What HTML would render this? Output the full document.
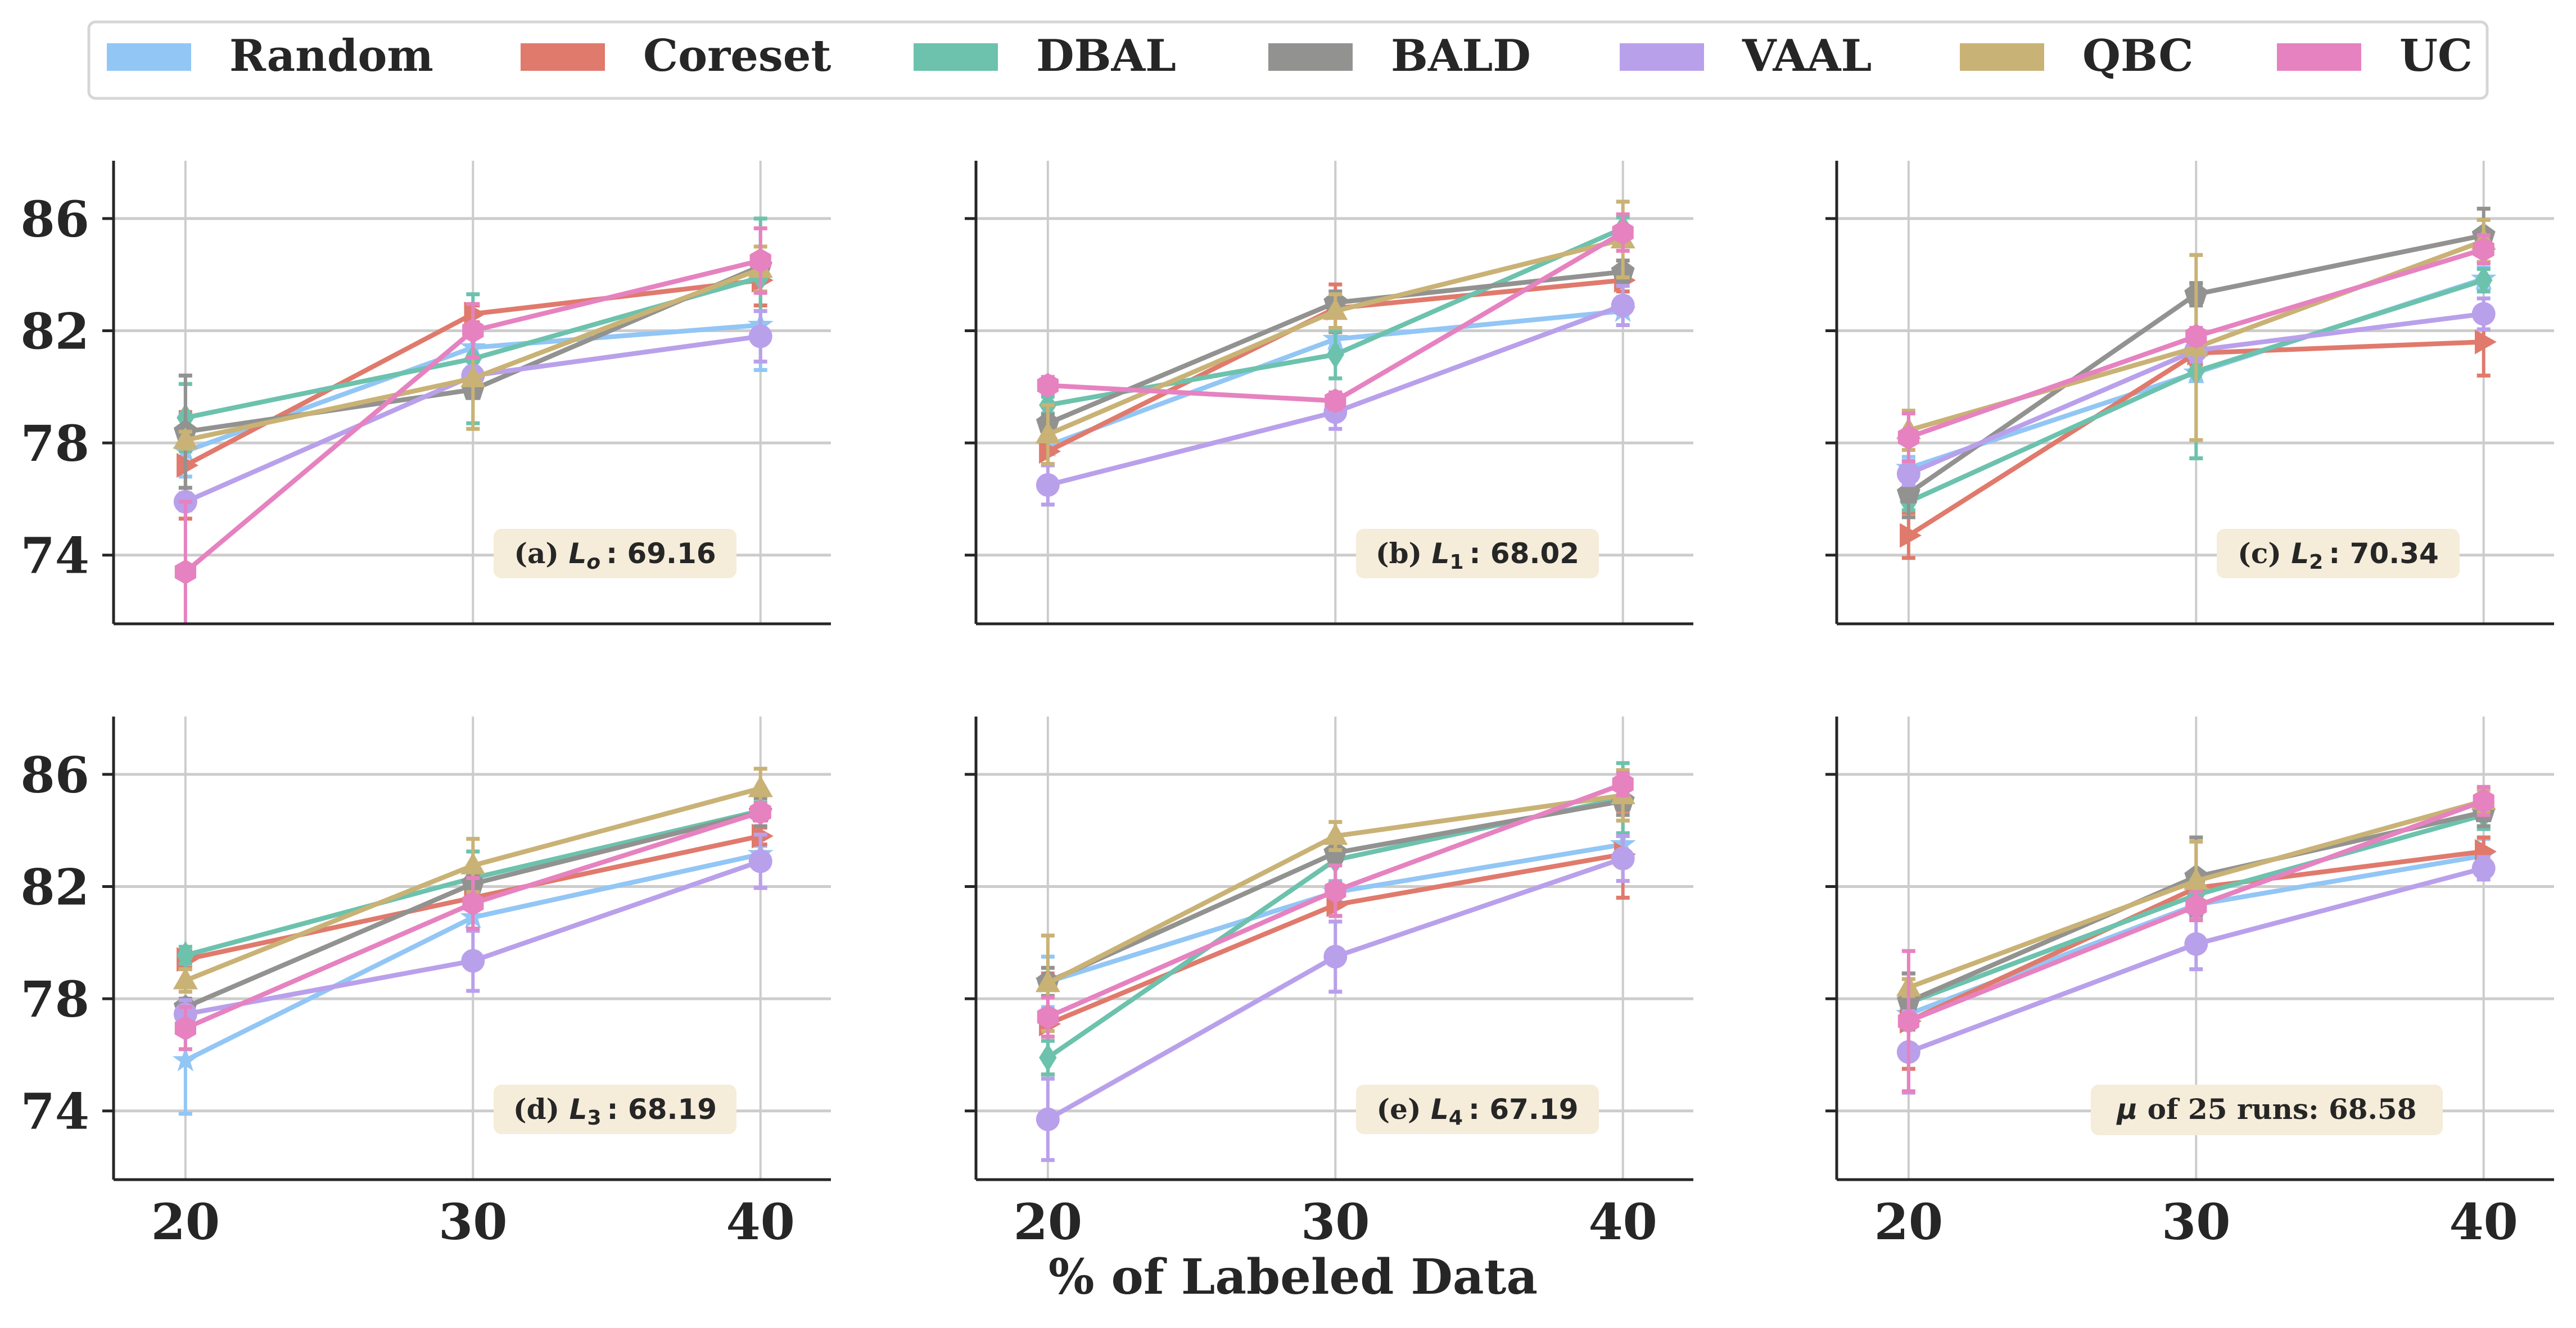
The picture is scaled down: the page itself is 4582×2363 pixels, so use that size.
<!DOCTYPE html>
<html><head><meta charset="utf-8">
<style>
html,body{margin:0;padding:0;background:#fff;}
svg{display:block;}
</style></head>
<body>
<svg id="chart" width="4582" height="2363" viewBox="0 0 4582 2363" xmlns="http://www.w3.org/2000/svg">
<rect x="0" y="0" width="4582" height="2363" fill="#fff"/>
<g id="legend"></g>
<g id="panels"></g>
<text x="2300" y="2302" text-anchor="middle" font-family="DejaVu Serif, Liberation Serif, serif" font-weight="bold" font-size="86" fill="#262626">% of Labeled Data</text>
</svg>
<script>
const seriesNames = ["Random","Coreset","DBAL","BALD","VAAL","QBC","UC"];
const seriesColors = ["#92c6f5","#e07a6c","#6cc2ad","#929290","#b9a0eb","#c9b275","#e682c0"];
const seriesMarkers = ["star","tri-right","diamond","pentagon","circle","tri-up","hexagon"];
const xValues = [20,30,40];
const xTicks = [20,30,40];
const yTicks = [74,78,82,86];
const panelLabels = ["(a) ","(b) ","(c) ","(d) ","(e) ",""];
const panelSubs = ["o","1","2","3","4",""];
const panelScores = ["69.16","68.02","70.34","68.19","67.19","68.58"];

const randomMeans = [[77.7,81.4,82.2],[77.9,81.7,82.7],[77.1,80.5,83.85],[75.8,80.9,83.15],[78.6,81.8,83.5],[77.45,81.35,83.1]];
const randomErrs  = [[0.9,0.5,1.6],[0.3,0.4,0.5],[0.4,0.3,0.4],[1.9,0.4,0.3],[0.9,0.4,0.3],[0.4,0.5,0.6]];
const coresetMeans = [[77.2,82.6,83.8],[77.7,82.8,83.8],[74.7,81.2,81.6],[79.4,81.6,83.8],[77.1,81.35,83.15],[77.2,81.95,83.25]];
const coresetErrs  = [[1.9,0.3,0.9],[0.5,0.85,0.4],[0.8,0.4,1.2],[0.3,0.3,0.3],[1.8,0.4,1.55],[1.7,0.5,0.5]];
const dbalMeans = [[78.9,81.0,83.9],[79.35,81.15,85.65],[75.9,80.55,83.8],[79.55,82.3,84.7],[75.9,82.95,85.15],[77.85,81.7,84.55]];
const dbalErrs  = [[1.2,2.3,2.1],[0.3,0.85,0.4],[0.3,3.1,0.4],[0.3,0.95,0.3],[0.6,0.8,1.25],[0.5,0.5,0.5]];
const baldMeans = [[78.4,79.9,84.3],[78.7,83.0,84.1],[76.2,83.3,85.4],[77.7,82.1,84.65],[78.6,83.2,85.05],[77.9,82.35,84.65]];
const baldErrs  = [[2.0,0.3,0.3],[0.3,0.4,0.4],[0.85,0.4,0.95],[0.3,0.3,0.5],[0.5,0.4,0.5],[1.0,1.4,0.5]];
const vaalMeans = [[75.9,80.4,81.8],[76.5,79.1,82.9],[76.9,81.3,82.6],[77.45,79.35,82.9],[73.7,79.5,83.0],[76.1,79.95,82.65]];
const vaalErrs  = [[0.3,0.3,0.9],[0.7,0.6,0.7],[0.4,0.4,0.55],[0.5,1.07,0.95],[1.45,1.25,0.8],[1.45,0.9,0.4]];
const qbcMeans = [[78.1,80.3,84.2],[78.3,82.7,85.25],[78.45,81.4,85.2],[78.65,82.75,85.5],[78.55,83.8,85.25],[78.4,82.2,85.05]];
const qbcErrs  = [[0.3,1.8,0.8],[1.05,0.6,1.35],[0.7,3.3,0.75],[0.4,0.95,0.7],[1.7,0.5,0.9],[0.3,1.4,0.4]];
const ucMeans = [[73.4,82.0,84.5],[80.05,79.5,85.5],[78.2,81.8,84.9],[76.95,81.4,84.65],[77.35,81.85,85.65],[77.2,81.3,85.05]];
const ucErrs  = [[2.5,0.95,1.15],[0.3,0.3,0.65],[0.85,0.3,0.5],[0.75,0.9,0.3],[0.7,0.9,0.4],[2.5,0.5,0.5]];

const allMeans = [randomMeans,coresetMeans,dbalMeans,baldMeans,vaalMeans,qbcMeans,ucMeans];
const allErrs = [randomErrs,coresetErrs,dbalErrs,baldErrs,vaalErrs,qbcErrs,ucErrs];

const NS = "http://www.w3.org/2000/svg";
function mk(tag, attrs, parent){const e=document.createElementNS(NS,tag);for(const k in attrs)e.setAttribute(k,attrs[k]);if(parent)parent.appendChild(e);return e;}

const X_MIN=17.5, X_MAX=42.45, Y_MIN=71.55, Y_MAX=88.06;
const PW=1276, PH=824;
const colLeft=[202,1736,3267], rowTop=[286,1275];
const SERIF="DejaVu Serif, Liberation Serif, serif", SANS="DejaVu Sans, Liberation Sans, sans-serif";

// legend
const legend=document.getElementById('legend');
const lbox=mk('rect',{x:158,y:39,width:4266,height:136,rx:12,fill:'#fff',stroke:'#d6d6d6','stroke-width':5},legend);


const legendX=[190,926,1625,2256,2881,3486,4050];
seriesNames.forEach((n,i)=>{
  const g=mk('g',{},legend);
  
  
  mk('rect',{x:legendX[i],y:77,width:150,height:49,fill:seriesColors[i]},g);
  const t=mk('text',{x:legendX[i]+218,y:126,'font-family':SERIF,'font-weight':'bold','font-size':78,fill:'#262626'},g);
  t.textContent=n;
});

function marker(type,cx,cy,color,parent){
  const r=21; let el;
  const poly=(pts)=>mk('polygon',{points:pts.map(p=>(cx+p[0]).toFixed(1)+','+(cy+p[1]).toFixed(1)).join(' '),fill:color},parent);
  const reg=(n,rot,rad)=>{const p=[];for(let k=0;k<n;k++){const a=rot+k*2*Math.PI/n;p.push([rad*Math.cos(a),rad*Math.sin(a)]);}return p;};
  if(type==='circle') el=mk('circle',{cx:cx,cy:cy,r:r,fill:color},parent);
  else if(type==='tri-up') el=poly([[0,-r*1.1],[r*1.05,r*0.75],[-r*1.05,r*0.75]]);
  else if(type==='tri-right') el=poly([[r*1.1,0],[-r*0.75,-r*1.05],[-r*0.75,r*1.05]]);
  else if(type==='diamond') el=poly([[0,-r*1.2],[r*0.75,0],[0,r*1.2],[-r*0.75,0]]);
  else if(type==='pentagon') el=poly(reg(5,-Math.PI/2,r*1.05));
  else if(type==='hexagon') el=poly(reg(6,-Math.PI/2,r*1.05));
  else { const p=[];for(let k=0;k<10;k++){const a=-Math.PI/2+k*Math.PI/5;const rr=k%2?r*0.45:r*1.15;p.push([rr*Math.cos(a),rr*Math.sin(a)]);} el=poly(p);}
  return el;
}

const panels=document.getElementById('panels');
for(let p=0;p<6;p++){
  const L=colLeft[p%3], T=rowTop[Math.floor(p/3)];
  const sx=v=>L+(v-X_MIN)/(X_MAX-X_MIN)*PW;
  const sy=v=>T+PH-(v-Y_MIN)/(Y_MAX-Y_MIN)*PH;
  const g=mk('g',{},panels);
  
  
  const cid='clip'+p;
  const cp=mk('clipPath',{id:cid},g); mk('rect',{x:L,y:T,width:PW,height:PH},cp);
  xTicks.forEach(v=>{const l=mk('line',{x1:sx(v),x2:sx(v),y1:T,y2:T+PH,stroke:'#cccccc','stroke-width':4},g);
    
    });
  yTicks.forEach(v=>{const l=mk('line',{x1:L,x2:L+PW,y1:sy(v),y2:sy(v),stroke:'#cccccc','stroke-width':5},g);
    
    
    mk('line',{x1:L-20,x2:L,y1:sy(v),y2:sy(v),stroke:'#262626','stroke-width':5},g);
    if(p%3===0){const t=mk('text',{x:L-43,y:sy(v)+32,'text-anchor':'end','font-family':SERIF,'font-weight':'bold','font-size':88,fill:'#262626'},g);
      t.textContent=v;
      
      }
  });
  if(p>=3){xTicks.forEach(v=>{const t=mk('text',{x:sx(v),y:2205,'text-anchor':'middle','font-family':SERIF,'font-weight':'bold','font-size':88,fill:'#262626'},g);
    t.textContent=v;
    
    });}
  const ann=mk('g',{},g);
  
  
  if(p<5){
    mk('rect',{x:L+676,y:T+655,width:432,height:88,rx:14,fill:'#f5ecd9'},ann);
    const t=mk('text',{x:L+892,y:T+716,'text-anchor':'middle','font-size':50,'font-weight':'bold',fill:'#262626','font-family':SANS},ann);
    const a=mk('tspan',{'font-family':SERIF},t); a.textContent=panelLabels[p];
    const b=mk('tspan',{'font-style':'italic'},t); b.textContent='L';
    const c=mk('tspan',{'font-style':p===0?'italic':'normal','font-size':36,dy:10},t); c.textContent=panelSubs[p];
    const d=mk('tspan',{dy:-10},t); d.textContent='\u2009: '+panelScores[p];
  } else {
    mk('rect',{x:L+452,y:T+655,width:626,height:90,rx:14,fill:'#f5ecd9'},ann);
    const t=mk('text',{x:L+765,y:T+716,'text-anchor':'middle','font-size':50,'font-weight':'bold',fill:'#262626','font-family':SERIF},ann);
    const a=mk('tspan',{'font-style':'italic','font-family':SANS},t); a.textContent='\u03bc';
    const b=mk('tspan',{},t); b.textContent=' of 25 runs: '+panelScores[p];
  }
  const sg=mk('g',{'clip-path':'url(#'+cid+')'},g);
  for(let s=0;s<7;s++){
    const m=allMeans[s][p], e=allErrs[s][p], col=seriesColors[s];
    const ser=mk('g',{},sg);
    
    
    xValues.forEach((x,i)=>{
      const X=sx(x);
      mk('line',{x1:X,x2:X,y1:sy(m[i]-e[i]),y2:sy(m[i]+e[i]),stroke:col,'stroke-width':6},ser);
      mk('line',{x1:X-12,x2:X+12,y1:sy(m[i]-e[i]),y2:sy(m[i]-e[i]),stroke:col,'stroke-width':7},ser);
      mk('line',{x1:X-12,x2:X+12,y1:sy(m[i]+e[i]),y2:sy(m[i]+e[i]),stroke:col,'stroke-width':7},ser);
    });
    const ln=mk('polyline',{points:xValues.map((x,i)=>sx(x)+','+sy(m[i])).join(' '),fill:'none',stroke:col,'stroke-width':8.5,'stroke-linejoin':'round'},ser);
    
    
    xValues.forEach((x,i)=>{
      const mm=marker(seriesMarkers[s],sx(x),sy(m[i]),col,ser);
      
      
    });
  }
  mk('line',{x1:L,x2:L,y1:T,y2:T+PH,stroke:'#262626','stroke-width':5},g);
  mk('line',{x1:L,x2:L+PW,y1:T+PH,y2:T+PH,stroke:'#262626','stroke-width':5},g);
}
</script>
</body></html>
